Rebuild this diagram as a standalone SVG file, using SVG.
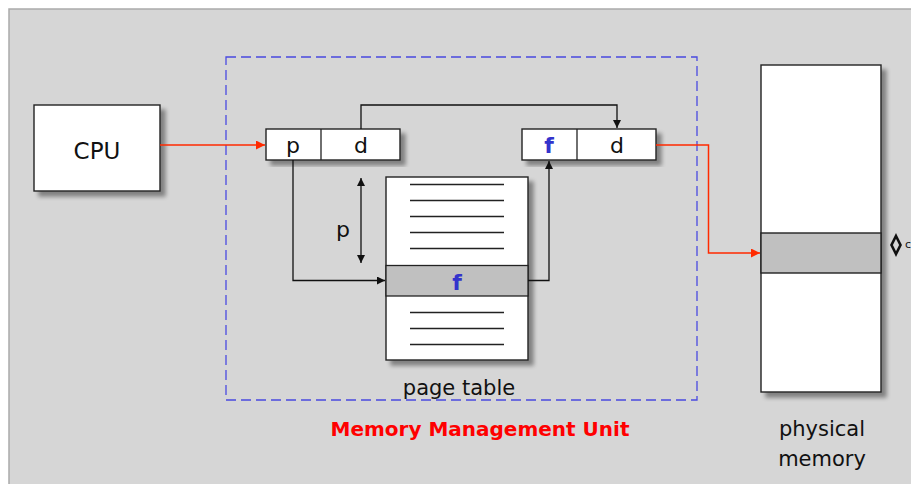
<svg xmlns="http://www.w3.org/2000/svg" width="911" height="484" viewBox="0 0 911 484">
<defs>
<filter id="sh" x="-20%" y="-20%" width="140%" height="140%">
<feGaussianBlur in="SourceAlpha" stdDeviation="2"/>
<feOffset dx="5" dy="5" result="b"/>
<feComponentTransfer in="b" result="c"><feFuncA type="linear" slope="0.4"/></feComponentTransfer>
<feMerge><feMergeNode in="c"/><feMergeNode in="SourceGraphic"/></feMerge>
</filter>
<marker id="ab" viewBox="0 0 10 10" refX="10" refY="5" markerWidth="8" markerHeight="8" markerUnits="userSpaceOnUse" orient="auto-start-reverse">
<path d="M0,0 L10,5 L0,10 z" fill="#111"/>
</marker>
<marker id="ar" viewBox="0 0 10 10" refX="10" refY="5" markerWidth="9" markerHeight="9" markerUnits="userSpaceOnUse" orient="auto">
<path d="M0,0 L10,5 L0,10 z" fill="#ff2a00"/>
</marker>
</defs>
<style>
.box{fill:#fff;stroke:#222;stroke-width:1.4}
.t{font-family:"DejaVu Sans",sans-serif;fill:#111;text-anchor:middle}
.bl{stroke:#111;stroke-width:1.3;fill:none}
.rd{stroke:#ff2a00;stroke-width:1.5;fill:none}
.ln{stroke:#222;stroke-width:1.3}
</style>
<rect x="0" y="0" width="911" height="484" fill="#fff"/>
<rect x="9" y="9" width="910" height="480" fill="#d6d6d6" stroke="#aaa" stroke-width="1.5"/>
<rect id="mmu" x="226" y="57" width="471" height="343" fill="none" stroke="#4a4ae0" stroke-width="1.3" stroke-dasharray="10,5"/>

<g id="cpu">
<rect class="box" x="34" y="105" width="126" height="86" filter="url(#sh)"/>
<text class="t" x="97" y="159" font-size="23">CPU</text>
</g>

<g id="logical-address">
<rect class="box" x="266" y="129" width="134" height="31" filter="url(#sh)"/>
<line class="ln" x1="321" y1="129" x2="321" y2="160"/>
<text class="t" x="293" y="153" font-size="22">p</text>
<text class="t" x="361" y="153" font-size="22">d</text>
</g>

<g id="physical-address">
<rect class="box" x="522" y="129" width="134" height="31" filter="url(#sh)"/>
<line class="ln" x1="577" y1="129" x2="577" y2="160"/>
<text class="t" x="549" y="153" font-size="22" font-weight="bold" style="fill:#3333cc">f</text>
<text class="t" x="617" y="153" font-size="22">d</text>
</g>

<g id="page-table">
<rect class="box" x="386" y="177" width="142" height="183" filter="url(#sh)"/>
<rect x="386" y="265.5" width="142" height="30.5" fill="#c0c0c0" stroke="#222" stroke-width="1.3"/>
<g class="ln">
<line x1="410" y1="184.5" x2="504" y2="184.5"/>
<line x1="410" y1="200.5" x2="504" y2="200.5"/>
<line x1="410" y1="216.5" x2="504" y2="216.5"/>
<line x1="410" y1="232.5" x2="504" y2="232.5"/>
<line x1="410" y1="248.5" x2="504" y2="248.5"/>
<line x1="410" y1="312.5" x2="504" y2="312.5"/>
<line x1="410" y1="328.5" x2="504" y2="328.5"/>
<line x1="410" y1="344.5" x2="504" y2="344.5"/>
</g>
<text class="t" x="457" y="290" font-size="22" font-weight="bold" style="fill:#3333cc">f</text>
<text class="t" x="459" y="395" font-size="21">page table</text>
</g>

<g id="physical-memory">
<rect class="box" x="761" y="65" width="120" height="327" filter="url(#sh)"/>
<rect x="761" y="233" width="120" height="40" fill="#c0c0c0" stroke="#222" stroke-width="1.4"/>
<text class="t" x="822" y="436" font-size="21">physical</text>
<text class="t" x="822" y="466" font-size="21">memory</text>
<polygon points="896,236 900.5,245 896,254 891.5,245" fill="none" stroke="#111" stroke-width="2.6"/>
<text x="905" y="248" font-family="DejaVu Sans,sans-serif" font-size="11" fill="#111">c</text>
</g>

<g id="connectors">
<path class="rd" d="M160,145 H265" marker-end="url(#ar)"/>
<path class="rd" d="M656,145 H708.5 V253 H760" marker-end="url(#ar)"/>
<path class="bl" d="M361,129 V105 H617 V128" marker-end="url(#ab)"/>
<path class="bl" d="M293,160 V280.5 H385" marker-end="url(#ab)"/>
<path class="bl" d="M528,280.5 H549 V161" marker-end="url(#ab)"/>
<path class="bl" d="M361,178 V263" marker-start="url(#ab)" marker-end="url(#ab)"/>
<text class="t" x="343" y="237" font-size="22">p</text>
</g>

<text x="480" y="436" font-family="DejaVu Sans,sans-serif" font-size="20" font-weight="bold" fill="#ff0000" text-anchor="middle">Memory Management Unit</text>
</svg>
